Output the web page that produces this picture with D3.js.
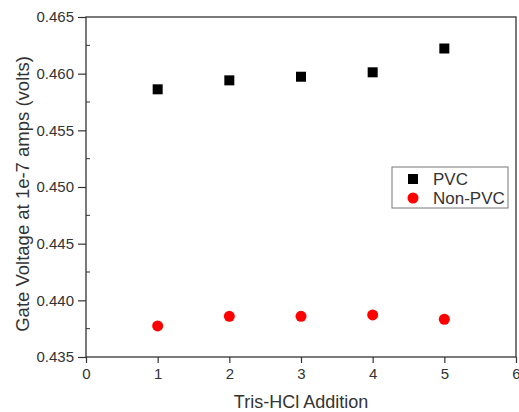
<!DOCTYPE html>
<html>
<head>
<meta charset="utf-8">
<script src="https://cdn.jsdelivr.net/npm/d3@7"></script>
<style>
  body { margin: 0; background: #fff; }
  svg { display: block; font-family: "Liberation Sans", Arial, sans-serif; }
</style>
</head>
<body>
<svg id="chart" width="519" height="412"></svg>
<script>
// data
const additions = [1, 2, 3, 4, 5];
const pvc = [0.45862, 0.45941, 0.45973, 0.46012, 0.46222];
const nonPvc = [0.43774, 0.43859, 0.43859, 0.43871, 0.43833];
const xTicks = [0, 1, 2, 3, 4, 5, 6];
const yTicks = [0.435, 0.440, 0.445, 0.450, 0.455, 0.460, 0.465];
const yMinor = [0.4375, 0.4425, 0.4475, 0.4525, 0.4575, 0.4625];

const svg = d3.select('#chart');
const plotLeft = 86, plotRight = 516, plotTop = 17, plotBottom = 357;

let x = d3.scaleLinear().domain([0, 6]).range([plotLeft, plotRight]);
let y = d3.scaleLinear().domain([0.435, 0.465]).range([plotBottom, plotTop]);

// frame
svg.append('rect')
    .attr('x', plotLeft).attr('y', plotTop)
    .attr('width', plotRight - plotLeft).attr('height', plotBottom - plotTop)
    .attr('fill', 'none').attr('stroke', '#333').attr('stroke-width', 1.3);

// x axis
let xAxis = d3.axisBottom(x).tickValues(xTicks).tickFormat(d3.format('d')).tickSize(6).tickPadding(5);
let gx = svg.append('g').attr('transform', 'translate(0,' + plotBottom + ')').call(xAxis);
gx.select('.domain').remove();

// y axis
let yAxis = d3.axisLeft(y).tickValues(yTicks).tickFormat(d3.format('.3f')).tickSize(8).tickPadding(4);
let gy = svg.append('g').attr('transform', 'translate(' + plotLeft + ',0)').call(yAxis);
gy.select('.domain').remove();

// minor ticks on the left, pointing in
svg.append('g').selectAll('line').data(yMinor).enter().append('line')
    .attr('x1', plotLeft).attr('x2', plotLeft + 4)
    .attr('y1', function(d){ return y(d); }).attr('y2', function(d){ return y(d); })
    .attr('stroke', '#333');

[gx, gy].forEach(function(g){
    g.selectAll('.tick line').attr('stroke', '#333').attr('stroke-width', 1.2);
    g.selectAll('.tick text').attr('fill', '#333').style('font-size', '15px');
});

// axis titles
svg.append('text')
    .attr('x', (plotLeft + plotRight) / 2).attr('y', 408)
    .attr('text-anchor', 'middle').attr('fill', '#333')
    .style('font-size', '18px')
    .text('Tris-HCl Addition');
svg.append('text')
    .attr('transform', 'translate(29,194) rotate(-90)')
    .attr('text-anchor', 'middle').attr('fill', '#333')
    .style('font-size', '18.5px')
    .text('Gate Voltage at 1e-7 amps (volts)');

// PVC squares
const sq = 10;
svg.append('g').selectAll('rect').data(pvc).enter().append('rect')
    .attr('x', function(d, i){ return x(additions[i]) - sq / 2; })
    .attr('y', function(d){ return y(d) - sq / 2; })
    .attr('width', sq).attr('height', sq)
    .attr('fill', '#000');

// Non-PVC circles
svg.append('g').selectAll('circle').data(nonPvc).enter().append('circle')
    .attr('cx', function(d, i){ return x(additions[i]); })
    .attr('cy', function(d){ return y(d); })
    .attr('r', 5.5)
    .attr('fill', '#f00');

// legend
let legend = svg.append('g').attr('transform', 'translate(392,167)');
legend.append('rect')
    .attr('width', 116).attr('height', 41)
    .attr('fill', '#fff').attr('stroke', '#777').attr('stroke-width', 1);
legend.append('rect')
    .attr('x', 21 - sq / 2).attr('y', 12 - sq / 2)
    .attr('width', sq).attr('height', sq).attr('fill', '#000');
legend.append('circle')
    .attr('cx', 21).attr('cy', 31).attr('r', 5.5).attr('fill', '#f00');
legend.append('text').attr('x', 41).attr('y', 18)
    .attr('fill', '#333').style('font-size', '17px').text('PVC');
legend.append('text').attr('x', 41).attr('y', 37)
    .attr('fill', '#333').style('font-size', '17px').text('Non-PVC');
</script>
</body>
</html>
